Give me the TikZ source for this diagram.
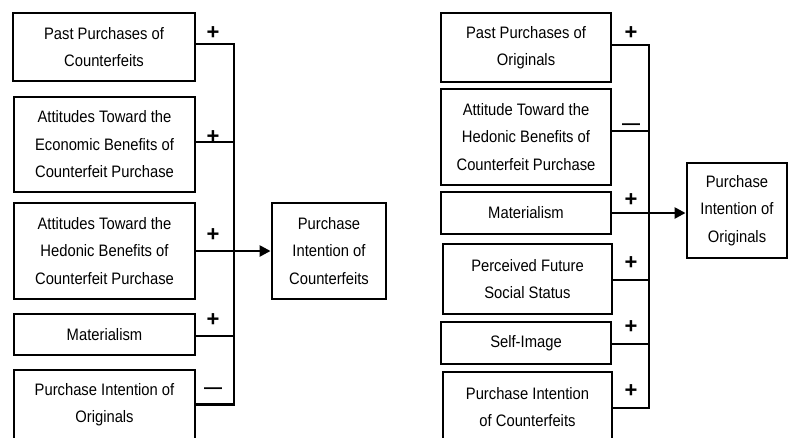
\documentclass[tikz,border=0pt]{standalone}
\usepackage{fontspec}
\setmainfont{Liberation Sans}
\newfontfamily\boxfont[FakeStretch=0.89]{Liberation Sans}
\usetikzlibrary{arrows.meta,calc}
\begin{document}
\begin{tikzpicture}[x=1pt,y=-1pt,
  box/.style={draw,line width=2.9pt,align=center,inner sep=0pt,
    font=\boxfont\fontsize{16.6}{27.5}\selectfont},
  conn/.style={line width=2.5pt},
  arr/.style={line width=2.5pt,-{Triangle[length=11pt,width=11pt]}},
  sgn/.style={font=\bfseries\fontsize{22}{22}\selectfont,inner sep=0pt},
  dsh/.style={font=\bfseries\fontsize{18}{18}\selectfont,inner sep=0pt}]
\useasboundingbox (0,0) rectangle (788,437);
\clip (0,0) rectangle (788,437);
% ---------- left panel ----------
\node[box,minimum width=182pt,minimum height=68pt] (L1) at (104,47) {Past Purchases of\\Counterfeits};
\node[box,minimum width=181pt,minimum height=95pt] (L2) at (104.5,144.5) {Attitudes Toward the\\Economic Benefits of\\Counterfeit Purchase};
\node[box,minimum width=181pt,minimum height=96pt] (L3) at (104.5,251) {Attitudes Toward the\\Hedonic Benefits of\\Counterfeit Purchase};
\node[box,minimum width=181pt,minimum height=41pt] (L4) at (104.5,334.5) {Materialism};
\node[box,minimum width=181pt,minimum height=69pt] (L5) at (104.5,404.5) {Purchase Intention of\\Originals};
\node[box,minimum width=114pt,minimum height=96pt] (TL) at (329,251) {Purchase\\Intention of\\Counterfeits};
\coordinate (bl) at (234,0);
\draw[conn] ([yshift=3pt]L1.east) -- ([yshift=3pt]L1.east -| bl) -- (L5.east -| bl) -- (L5.east);
\draw[conn] ([yshift=2.5pt]L2.east) -- ([yshift=2.5pt]L2.east -| bl);
\draw[conn] ([yshift=-1.5pt]L4.east) -- ([yshift=-1.5pt]L4.east -| bl);
\draw[arr] (L3.east) -- (L3.east -| TL.west);
\node[sgn] (pl1) at (213,33) {+};
\node[sgn] (pl2) at (213,137) {+};
\node[sgn] (pl3) at (213,235) {+};
\node[sgn] (pl4) at (213,320) {+};
\node[dsh] (ml5) at (213,391) {—};
% ---------- right panel ----------
\node[box,minimum width=170pt,minimum height=69pt] (R1) at (526,47.5) {Past Purchases of\\Originals};
\node[box,minimum width=170pt,minimum height=96pt] (R2) at (526,137) {Attitude Toward the\\Hedonic Benefits of\\Counterfeit Purchase};
\node[box,minimum width=170pt,minimum height=42pt] (R3) at (526,213) {Materialism};
\node[box,minimum width=169pt,minimum height=70pt] (R4) at (527.5,279) {Perceived Future\\Social Status};
\node[box,minimum width=170pt,minimum height=42pt] (R5) at (526,343) {Self-Image};
\node[box,minimum width=169pt,minimum height=70pt] (R6) at (527.5,407) {Purchase Intention\\of Counterfeits};
\node[box,minimum width=100pt,minimum height=95pt] (TR) at (737,210.5) {Purchase\\Intention of\\Originals};
\coordinate (br) at (649,0);
\draw[conn] ([yshift=2.5pt]R1.east) -- ([yshift=2.5pt]R1.east -| br) -- ([yshift=-1pt]R6.east -| br) -- ([yshift=-1pt]R6.east);
\draw[conn] ([yshift=6pt]R2.east) -- ([yshift=6pt]R2.east -| br);
\draw[conn] ([yshift=-1pt]R4.east) -- ([yshift=-1pt]R4.east -| br);
\draw[conn] ([yshift=-1pt]R5.east) -- ([yshift=-1pt]R5.east -| br);
\draw[arr] (R3.east) -- (R3.east -| TR.west);
\node[sgn] (pr1) at (631,33) {+};
\node[dsh] (mr2) at (631,127) {—};
\node[sgn] (pr3) at (631,200) {+};
\node[sgn] (pr4) at (631,263) {+};
\node[sgn] (pr5) at (631,327) {+};
\node[sgn] (pr6) at (631,391) {+};
\end{tikzpicture}
\end{document}
